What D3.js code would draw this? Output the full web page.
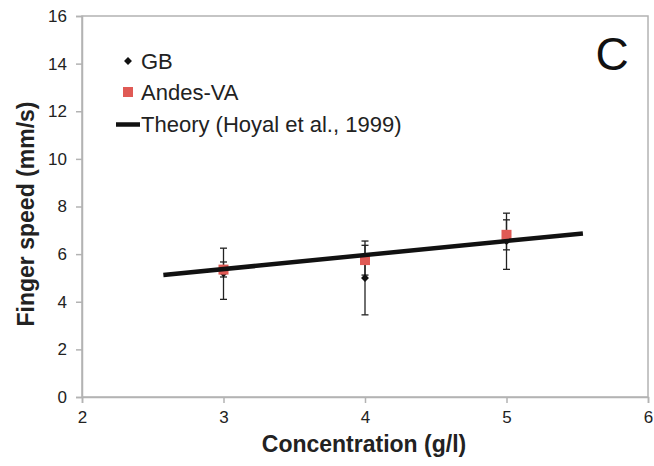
<!DOCTYPE html>
<html><head><meta charset="utf-8">
<script src="https://cdn.jsdelivr.net/npm/d3@7"></script>
<style>body{margin:0;background:#fff}svg{display:block}text{font-family:"Liberation Sans",Arial,sans-serif}</style>
</head><body>
<svg id="c" width="654" height="466"></svg>
<script>
const concentrations = [3, 4, 5];
const gbSpeed = [5.2, 5.0, 6.55];
const gbLow = [4.1, 3.45, 5.36];
const gbHigh = [6.25, 6.55, 7.72];
const andesSpeed = [5.35, 5.75, 6.81];
const andesLow = [5.04, 5.12, 6.18];
const andesHigh = [5.67, 6.37, 7.44];
const theoryX = [2.575, 5.54];
const theoryY = [5.12, 6.87];
const xTicks = [2, 3, 4, 5, 6];
const yTicks = [0, 2, 4, 6, 8, 10, 12, 14, 16];
const legendLabels = ["GB", "Andes-VA", "Theory (Hoyal et al., 1999)"];

const svg = d3.select("#c");
const L = 82, R = 648, T = 16, B = 397;
const x = d3.scaleLinear().domain([2, 6]).range([L, R]);
const y = d3.scaleLinear().domain([0, 16]).range([B, T]);
const axisColor = "#b3b3b3";

// plot border
svg.append("rect").attr("x", L).attr("y", T).attr("width", R - L).attr("height", B - T)
  .attr("fill", "none").attr("stroke", axisColor).attr("stroke-width", 1.5);

const ya = svg.append("g").attr("transform", `translate(${L},0)`)
  .call(d3.axisLeft(y).tickValues(yTicks).tickFormat(d3.format("d")).tickSize(6).tickPadding(9));
const xa = svg.append("g").attr("transform", `translate(0,${B})`)
  .call(d3.axisBottom(x).tickValues(xTicks).tickFormat(d3.format("d")).tickSize(6).tickPadding(8));
[ya, xa].forEach(g => {
  g.select(".domain").attr("stroke", axisColor).attr("stroke-width", 1.5);
  g.selectAll(".tick line").attr("stroke", axisColor).attr("stroke-width", 1.5);
  g.selectAll(".tick text").attr("fill", "#222").style("font-size", "17px")
    .style("font-family", '"Liberation Sans", Arial, sans-serif');
});

// axis titles
svg.append("text").attr("x", 364).attr("y", 452).attr("text-anchor", "middle")
  .style("font-size", "23px").style("font-weight", "bold").attr("fill", "#222")
  .text("Concentration (g/l)");
svg.append("text").attr("transform", "translate(34,214) rotate(-90)").attr("text-anchor", "middle")
  .style("font-size", "23px").style("font-weight", "bold").attr("fill", "#222")
  .text("Finger speed (mm/s)");

// panel letter
svg.append("text").attr("x", 612).attr("y", 70).attr("text-anchor", "middle")
  .style("font-size", "46px").attr("fill", "#111").text("C");

// error bars
function errBars(lo, hi) {
  const g = svg.append("g").attr("stroke", "#222").attr("stroke-width", 1.3);
  concentrations.forEach((c, i) => {
    g.append("line").attr("x1", x(c)).attr("x2", x(c)).attr("y1", y(lo[i])).attr("y2", y(hi[i]));
    [lo[i], hi[i]].forEach(v => g.append("line").attr("x1", x(c) - 3.5).attr("x2", x(c) + 3.5)
      .attr("y1", y(v)).attr("y2", y(v)));
  });
}
errBars(gbLow, gbHigh);
errBars(andesLow, andesHigh);

// GB diamonds
const diamond = d3.symbol().type(d3.symbolDiamond2).size(40);
svg.append("g").selectAll("path").data(concentrations).join("path")
  .attr("transform", (d, i) => `translate(${x(d)},${y(gbSpeed[i])})`)
  .attr("d", diamond).attr("fill", "#111");

// Andes squares
svg.append("g").selectAll("rect").data(concentrations).join("rect")
  .attr("x", d => x(d) - 5).attr("y", (d, i) => y(andesSpeed[i]) - 5)
  .attr("width", 10).attr("height", 10).attr("fill", "#e05a55");

// theory line
svg.append("path").datum(theoryX.map((v, i) => [v, theoryY[i]]))
  .attr("d", d3.line().x(d => x(d[0])).y(d => y(d[1])))
  .attr("stroke", "#111").attr("stroke-width", 4.5).attr("fill", "none");

// legend
const lg = svg.append("g");
lg.append("path").attr("transform", "translate(128,61)").attr("d", diamond).attr("fill", "#111");
lg.append("rect").attr("x", 123).attr("y", 87).attr("width", 10).attr("height", 10).attr("fill", "#e05a55");
lg.append("line").attr("x1", 116).attr("x2", 140).attr("y1", 124.5).attr("y2", 124.5)
  .attr("stroke", "#111").attr("stroke-width", 4.5);
const ly = [68.5, 100, 132];
legendLabels.forEach((t, i) => lg.append("text").attr("x", 141).attr("y", ly[i])
  .style("font-size", "22px").attr("fill", "#222").text(t));
</script>
</body></html>
